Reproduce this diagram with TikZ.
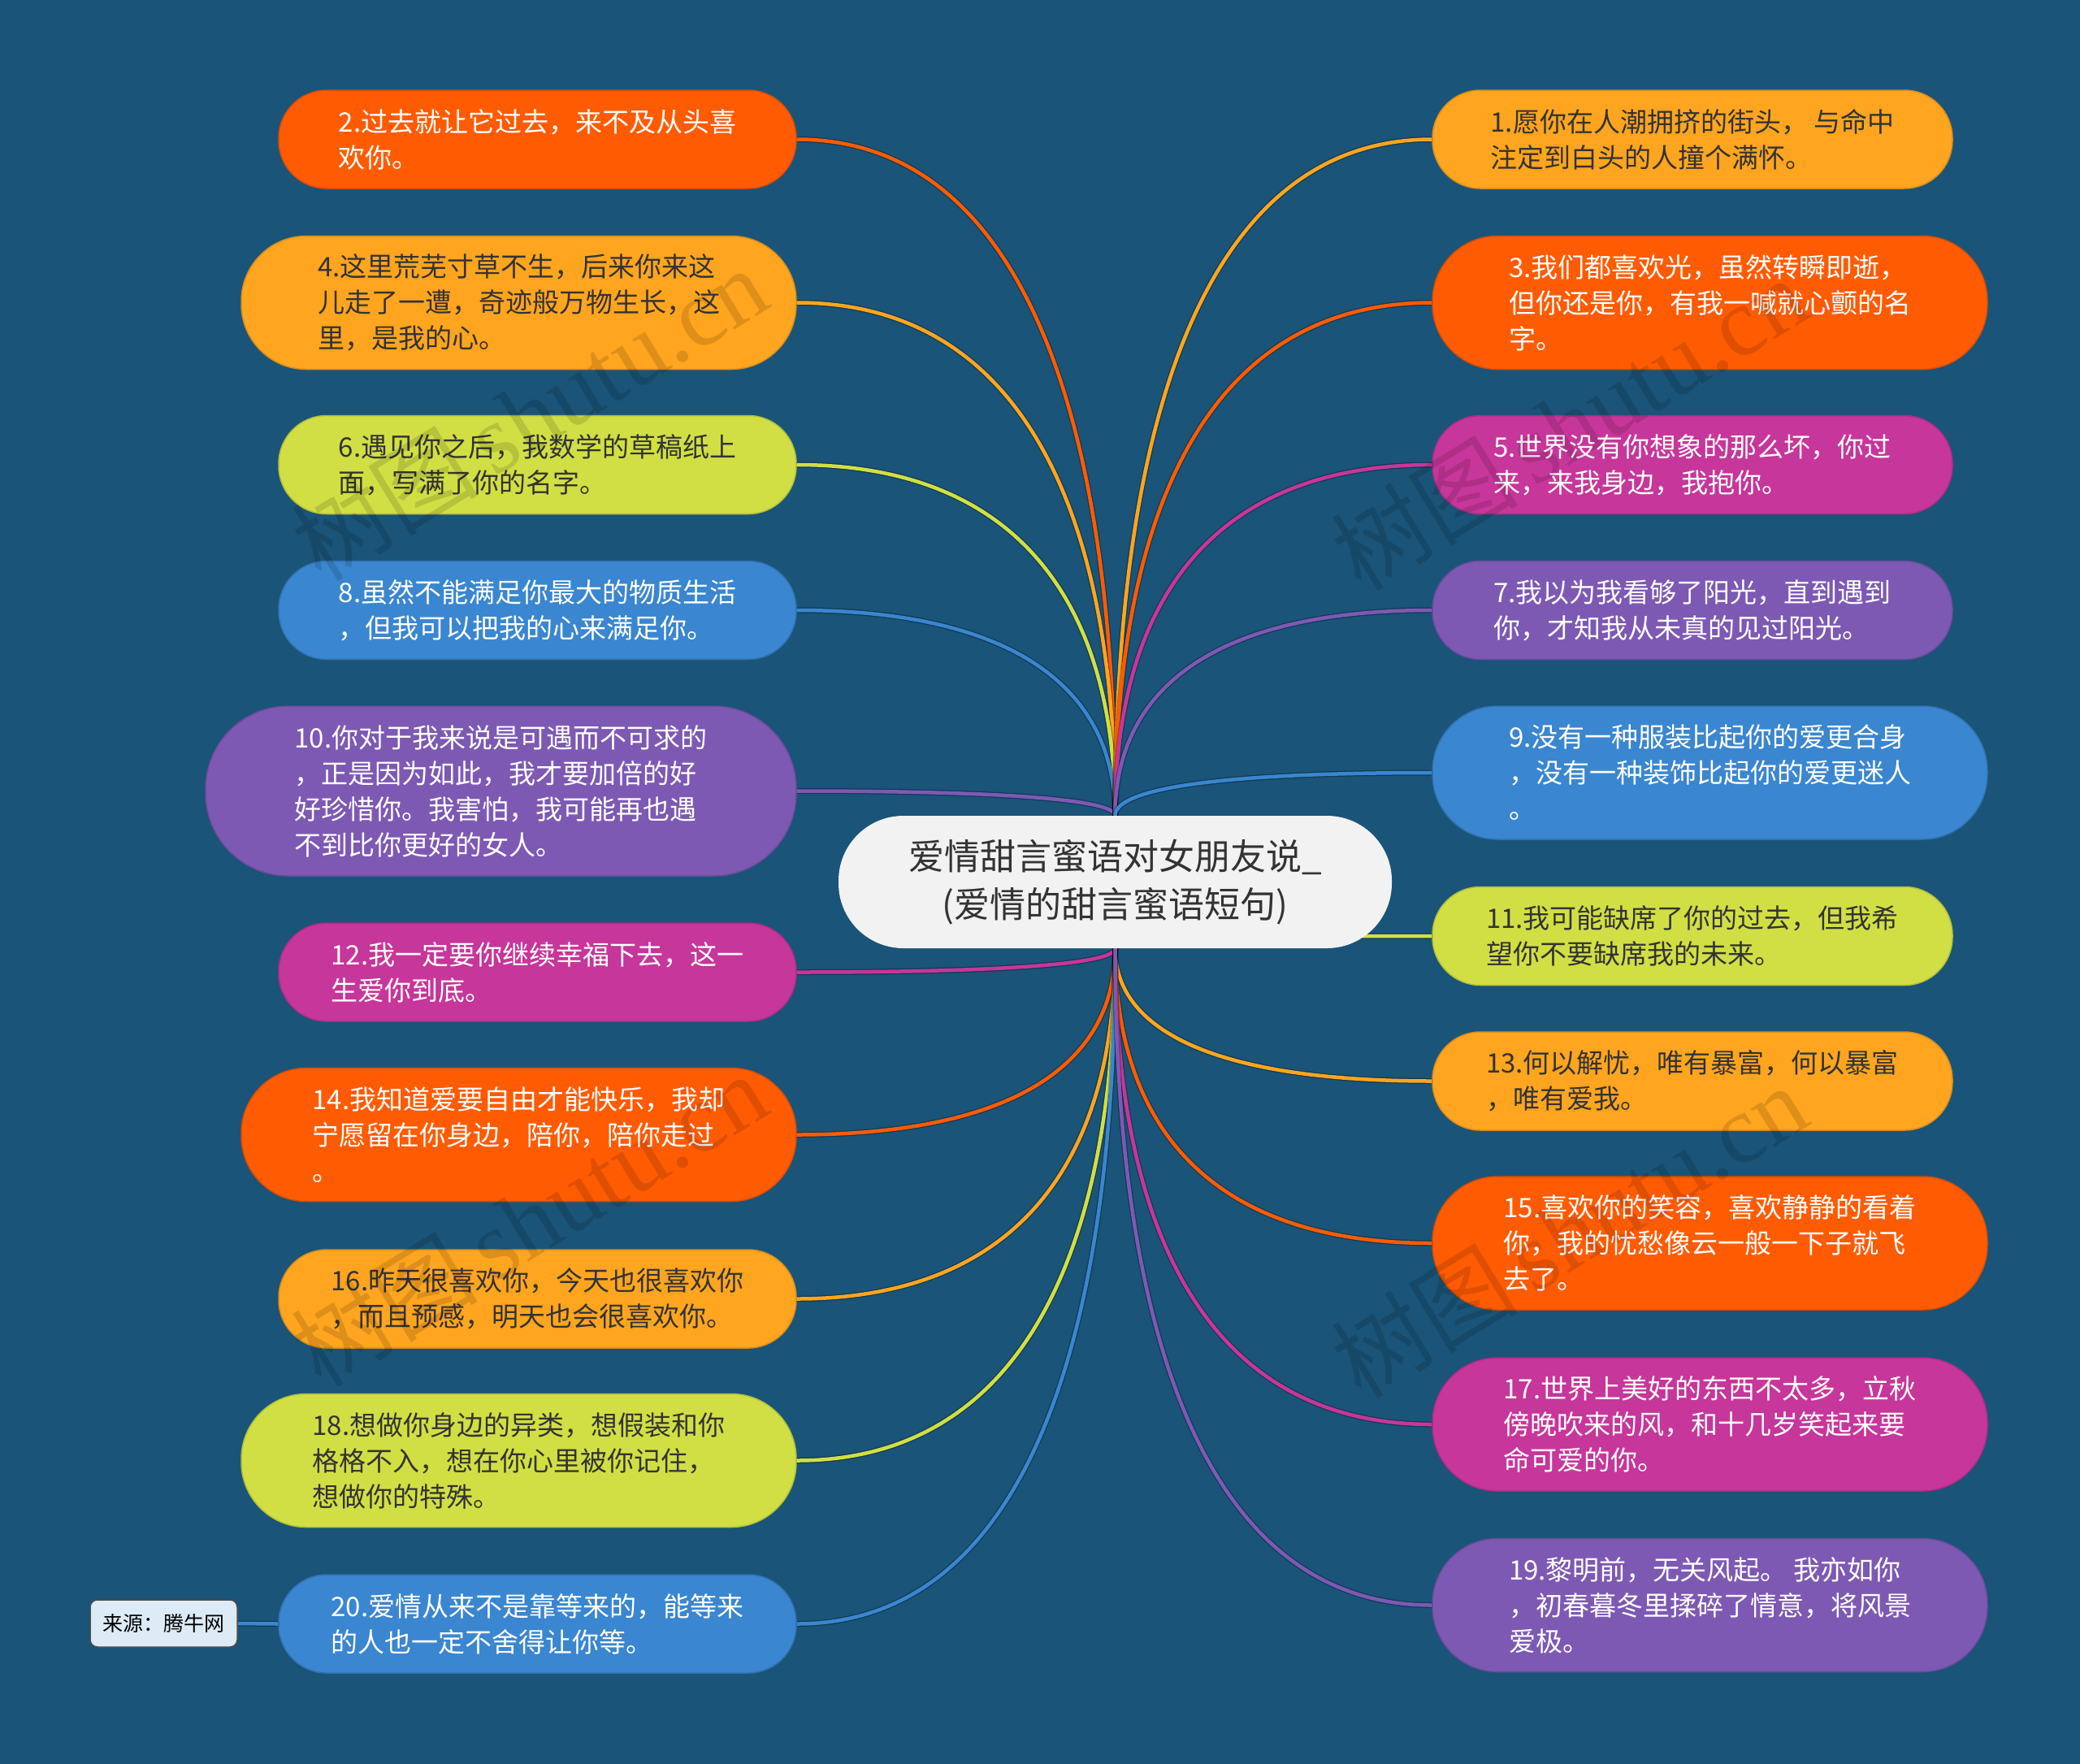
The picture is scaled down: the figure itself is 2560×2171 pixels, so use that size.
\documentclass[tikz,border=0pt]{standalone}
\usepackage{fontspec}
\newfontfamily\cjk{Noto Sans CJK SC}
\newfontfamily\wmserif{Liberation Serif}
\usetikzlibrary{calc,backgrounds}
\definecolor{bg}{HTML}{1A5478}
\definecolor{cRed}{HTML}{FF5B03}
\definecolor{cOra}{HTML}{FFA51F}
\definecolor{cLim}{HTML}{D1DF44}
\definecolor{cBlu}{HTML}{3A86D0}
\definecolor{cPur}{HTML}{7D59B4}
\definecolor{cMag}{HTML}{C7369A}
\definecolor{ink}{HTML}{333333}
\definecolor{srcfill}{HTML}{DDEBF7}
\newcommand\lconn[3]{\draw[conn=#3] (#1.east) .. controls +(274,0) and ($(c.#2)!0.6!(c.#2 |- #1.east)$) .. (c.#2);}
\newcommand\rconn[3]{\draw[conn=#3] (#1.west) .. controls +(-274,0) and ($(c.#2)!0.6!(c.#2 |- #1.west)$) .. (c.#2);}
\begin{document}
\begin{tikzpicture}[x=1pt,y=-1pt,
  leaf/.style={draw=#1!85!black, line width=1.5pt, fill=#1, align=left, inner sep=0pt,
    font=\cjk\fontsize{33}{44}\selectfont},
  wt/.style={text=white},
  dk/.style={text=ink},
  two/.style={minimum height=121pt, rounded corners=59pt},
  three/.style={minimum height=164pt, rounded corners=80pt},
  four/.style={minimum height=209pt, rounded corners=102pt},
  wS/.style={minimum width=637pt},
  wM/.style={minimum width=683pt},
  wL/.style={minimum width=727pt},
  wR/.style={minimum width=640pt},
  conn/.style={draw=#1, line width=4.5pt,
    preaction={draw=black, draw opacity=0.3, line width=7pt}},
  wm/.style={text=black, text opacity=0.13, rotate=31.5, inner sep=0pt}
]
\useasboundingbox (0,0) rectangle (2560,2171);

% centre node
\node[fill=white!95!black, text=ink, align=center, inner sep=0pt,
  minimum width=681pt, minimum height=163pt, rounded corners=80pt,
  font=\cjk\fontsize{44}{59}\selectfont] (c) at (1372.5,1085.5)
  {爱情甜言蜜语对女朋友说\_\\(爱情的甜言蜜语短句)};

% left nodes
\node[leaf=cRed, wt, two, wS]   (n2)  at (661.5,171.5)  {2.过去就让它过去，来不及从头喜\\欢你。};
\node[leaf=cOra, dk, three, wM] (n4)  at (638.5,372.5)  {4.这里荒芜寸草不生，后来你来这\\儿走了一遭，奇迹般万物生长，这\\里，是我的心。};
\node[leaf=cLim, dk, two, wS]   (n6)  at (661.5,572)    {6.遇见你之后，我数学的草稿纸上\\面，写满了你的名字。};
\node[leaf=cBlu, wt, two, wS]   (n8)  at (661.5,751)    {8.虽然不能满足你最大的物质生活\\，但我可以把我的心来满足你。};
\node[leaf=cPur, wt, four, wL]  (n10) at (616.5,973.5)  {10.你对于我来说是可遇而不可求的\\，正是因为如此，我才要加倍的好\\好珍惜你。我害怕，我可能再也遇\\不到比你更好的女人。};
\node[leaf=cMag, wt, two, wS]   (n12) at (661.5,1196.5) {12.我一定要你继续幸福下去，这一\\生爱你到底。};
\node[leaf=cRed, wt, three, wM] (n14) at (638.5,1396.5) {14.我知道爱要自由才能快乐，我却\\宁愿留在你身边，陪你，陪你走过\\。};
\node[leaf=cOra, dk, two, wS]   (n16) at (661.5,1598.5) {16.昨天很喜欢你，今天也很喜欢你\\，而且预感，明天也会很喜欢你。};
\node[leaf=cLim, dk, three, wM] (n18) at (638.5,1797.5) {18.想做你身边的异类，想假装和你\\格格不入，想在你心里被你记住，\\想做你的特殊。};
\node[leaf=cBlu, wt, two, wS]   (n20) at (661.5,1998.5) {20.爱情从来不是靠等来的，能等来\\的人也一定不舍得让你等。};

% right nodes
\node[leaf=cOra, dk, two, wR]   (n1)  at (2083,171.5)   {1.愿你在人潮拥挤的街头， 与命中\\注定到白头的人撞个满怀。};
\node[leaf=cRed, wt, three, wM] (n3)  at (2104.5,372.5) {3.我们都喜欢光，虽然转瞬即逝，\\但你还是你，有我一喊就心颤的名\\字。};
\node[leaf=cMag, wt, two, wR]   (n5)  at (2083,572)     {5.世界没有你想象的那么坏，你过\\来，来我身边，我抱你。};
\node[leaf=cPur, wt, two, wR]   (n7)  at (2083,751)     {7.我以为我看够了阳光，直到遇到\\你，才知我从未真的见过阳光。};
\node[leaf=cBlu, wt, three, wM] (n9)  at (2104.5,951)   {9.没有一种服装比起你的爱更合身\\，没有一种装饰比起你的爱更迷人\\。};
\node[leaf=cLim, dk, two, wR]   (n11) at (2083,1152)    {11.我可能缺席了你的过去，但我希\\望你不要缺席我的未来。};
\node[leaf=cOra, dk, two, wR]   (n13) at (2083,1330.5)  {13.何以解忧，唯有暴富，何以暴富\\，唯有爱我。};
\node[leaf=cRed, wt, three, wM] (n15) at (2104.5,1530)  {15.喜欢你的笑容，喜欢静静的看着\\你，我的忧愁像云一般一下子就飞\\去了。};
\node[leaf=cMag, wt, three, wM] (n17) at (2104.5,1753)  {17.世界上美好的东西不太多，立秋\\傍晚吹来的风，和十几岁笑起来要\\命可爱的你。};
\node[leaf=cPur, wt, three, wM] (n19) at (2104.5,1975.5){19.黎明前，无关风起。 我亦如你\\，初春暮冬里揉碎了情意，将风景\\爱极。};

% source
\node[draw=black!70, line width=1.5pt, fill=srcfill, text=black, rounded corners=9pt,
  minimum width=181pt, minimum height=58pt, inner sep=0pt,
  font=\cjk\fontsize{25}{30}\selectfont] (s) at (201.5,1998) {来源：腾牛网};

% background and connectors (behind nodes)
\begin{scope}[on background layer]
  \fill[bg] (0,0) rectangle (2560,2171);
  \lconn{n2}{north}{cRed}
  \lconn{n4}{north}{cOra}
  \lconn{n6}{north}{cLim}
  \lconn{n8}{north}{cBlu}
  \lconn{n10}{north}{cPur}
  \lconn{n12}{south}{cMag}
  \lconn{n14}{south}{cRed}
  \lconn{n16}{south}{cOra}
  \lconn{n18}{south}{cLim}
  \lconn{n20}{south}{cBlu}
  \rconn{n1}{north}{cOra}
  \rconn{n3}{north}{cRed}
  \rconn{n5}{north}{cMag}
  \rconn{n7}{north}{cPur}
  \rconn{n9}{north}{cBlu}
  \rconn{n11}{south}{cLim}
  \rconn{n13}{south}{cOra}
  \rconn{n15}{south}{cRed}
  \rconn{n17}{south}{cMag}
  \rconn{n19}{south}{cPur}
  \draw[conn=cBlu] (s.east) -- (n20.west);
\end{scope}

% watermarks
\foreach \p/\q in {651/510, 1931/522, 651/1502, 1931/1516}{
  \node[wm] (w\p\q) at (\p,\q) {\cjk\fontsize{115}{115}\selectfont 树图\wmserif\fontsize{120}{120}\selectfont\,shutu.cn};
}
\end{tikzpicture}
\end{document}
